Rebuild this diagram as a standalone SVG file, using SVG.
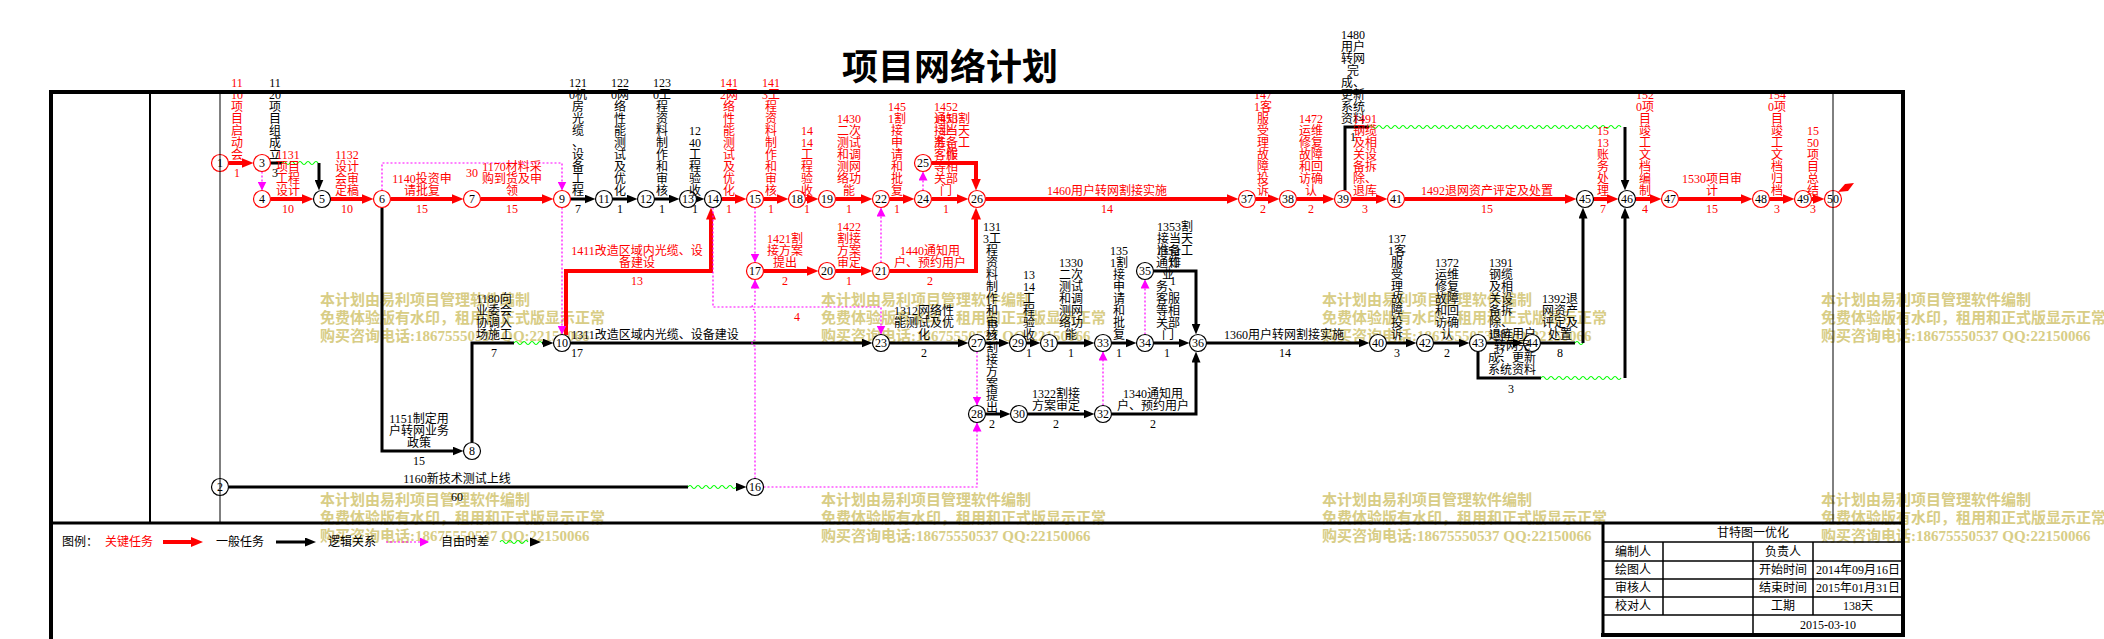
<svg xmlns="http://www.w3.org/2000/svg" width="2104" height="639" viewBox="0 0 2104 639">
<style>
.t{font-family:"Liberation Serif","Noto Sans CJK SC",serif;font-size:12px;text-anchor:middle}
.ts{font-family:"Liberation Serif","Noto Sans CJK SC",serif;font-size:12px}
.r{fill:#f00}.k{fill:#000}
.nr circle{fill:#fff;stroke:#f00;stroke-width:1.2}
.nk circle{fill:#fff;stroke:#000;stroke-width:1.2}
.nr text,.nk text{font-family:"Liberation Serif",serif;font-size:12px;text-anchor:middle;fill:#000}
.cr{stroke:#f00;stroke-width:4;fill:none;marker-end:url(#ar)}
.ck{stroke:#000;stroke-width:3;fill:none;marker-end:url(#ak)}
.kp{stroke:#000;stroke-width:3;fill:none}
.cm{stroke:#f0f;stroke-width:1.2;stroke-dasharray:2 2;fill:none;marker-end:url(#am)}
.cmp{stroke:#f0f;stroke-width:1.2;stroke-dasharray:2 2;fill:none}
.wv{stroke:#0f0;stroke-width:1.2;fill:none}
.wm{font-family:"Liberation Serif","Noto Sans CJK SC",serif;font-size:15px;font-weight:bold;fill:#d8cd86}
.fr{stroke:#000;fill:none}
</style>
<defs>
<marker id="ar" markerUnits="userSpaceOnUse" markerWidth="12" markerHeight="10" refX="7" refY="5" orient="auto"><path d="M0,0 L12,5 L0,10 z" fill="#f00"/></marker>
<marker id="ak" markerUnits="userSpaceOnUse" markerWidth="11" markerHeight="9" refX="6" refY="4.5" orient="auto"><path d="M0,0 L11,4.5 L0,9 z" fill="#000"/></marker>
<marker id="am" markerUnits="userSpaceOnUse" markerWidth="9" markerHeight="9" refX="9" refY="4.5" orient="auto"><path d="M0,0 L9,4.5 L0,9 z" fill="#f0f"/></marker>
</defs>
<rect width="2104" height="639" fill="#fff"/>
<text x="950" y="80" font-family="'Noto Sans CJK SC',sans-serif" font-size="36" font-weight="bold" text-anchor="middle" fill="#000">项目网络计划</text>
<g id="watermark">
<text class="wm" x="320" y="305">本计划由易利项目管理软件编制</text>
<text class="wm" x="320" y="323">免费体验版有水印，租用和正式版显示正常</text>
<text class="wm" x="320" y="341">购买咨询电话:18675550537 QQ:22150066</text>
<text class="wm" x="821" y="305">本计划由易利项目管理软件编制</text>
<text class="wm" x="821" y="323">免费体验版有水印，租用和正式版显示正常</text>
<text class="wm" x="821" y="341">购买咨询电话:18675550537 QQ:22150066</text>
<text class="wm" x="1322" y="305">本计划由易利项目管理软件编制</text>
<text class="wm" x="1322" y="323">免费体验版有水印，租用和正式版显示正常</text>
<text class="wm" x="1322" y="341">购买咨询电话:18675550537 QQ:22150066</text>
<text class="wm" x="1821" y="305">本计划由易利项目管理软件编制</text>
<text class="wm" x="1821" y="323">免费体验版有水印，租用和正式版显示正常</text>
<text class="wm" x="1821" y="341">购买咨询电话:18675550537 QQ:22150066</text>
<text class="wm" x="320" y="505">本计划由易利项目管理软件编制</text>
<text class="wm" x="320" y="523">免费体验版有水印，租用和正式版显示正常</text>
<text class="wm" x="320" y="541">购买咨询电话:18675550537 QQ:22150066</text>
<text class="wm" x="821" y="505">本计划由易利项目管理软件编制</text>
<text class="wm" x="821" y="523">免费体验版有水印，租用和正式版显示正常</text>
<text class="wm" x="821" y="541">购买咨询电话:18675550537 QQ:22150066</text>
<text class="wm" x="1322" y="505">本计划由易利项目管理软件编制</text>
<text class="wm" x="1322" y="523">免费体验版有水印，租用和正式版显示正常</text>
<text class="wm" x="1322" y="541">购买咨询电话:18675550537 QQ:22150066</text>
<text class="wm" x="1821" y="505">本计划由易利项目管理软件编制</text>
<text class="wm" x="1821" y="523">免费体验版有水印，租用和正式版显示正常</text>
<text class="wm" x="1821" y="541">购买咨询电话:18675550537 QQ:22150066</text>
</g>
<g id="connectors">
<path class="cr" d="M228.5,163 H248.5"/>
<path class="cr" d="M270.5,199 H308.5"/>
<path class="cr" d="M330.5,199 H368.5"/>
<path class="cr" d="M390.5,199 H458.5"/>
<path class="cr" d="M480.5,199 H548.5"/>
<path class="cr" d="M721.5,199 H741.5"/>
<path class="cr" d="M763.5,199 H783.5"/>
<path class="cr" d="M805.5,199 H813.5"/>
<path class="cr" d="M835.5,199 H867.5"/>
<path class="cr" d="M889.5,199 H909.5"/>
<path class="cr" d="M931.5,199 H963.5"/>
<path class="cr" d="M931.5,163 H976 V185.5"/>
<path class="cr" d="M566,335 V271 H711 V212.5"/>
<path class="cr" d="M763.5,271 H813.5"/>
<path class="cr" d="M835.5,271 H867.5"/>
<path class="cr" d="M889.5,271 H976 V212.5"/>
<path class="cr" d="M985.5,199 H1233.5"/>
<path class="cr" d="M1255.5,199 H1274.5"/>
<path class="cr" d="M1296.5,199 H1329.5"/>
<path class="cr" d="M1351.5,199 H1382.5"/>
<path class="cr" d="M1404.5,199 H1571.5"/>
<path class="cr" d="M1593.5,199 H1613.5"/>
<path class="cr" d="M1635.5,199 H1656.5"/>
<path class="cr" d="M1678.5,199 H1747.5"/>
<path class="cr" d="M1769.5,199 H1789.5"/>
<path class="cr" d="M1811.5,199 H1819.5"/>
<path class="kp" d="M270.5,163 H282"/>
<path class="wv" d="M282,163 q2,-3 4,0 t4,0 t4,0 t4,0 t4,0 t4,0 t4,0 t4,0 t4,0"/>
<path class="ck" d="M319,163 V185.5"/>
<path class="ck" d="M570.5,199 H590.5"/>
<path class="ck" d="M612.5,199 H632.5"/>
<path class="ck" d="M654.5,199 H674.5"/>
<path class="ck" d="M696.5,199 H699.5"/>
<path class="ck" d="M382,207.5 V451 H458.5"/>
<path class="kp" d="M472,442.5 V343 H514"/>
<path class="wv" d="M514,343 q2,-3 4,0 t4,0 t4,0 t4,0 t4,0 t4,0 t4,0"/>
<path class="ck" d="M542,343 H548.5"/>
<path class="ck" d="M570.5,343 H867.5"/>
<path class="kp" d="M228.5,487 H688"/>
<path class="wv" d="M688,487 q2,-3 4,0 t4,0 t4,0 t4,0 t4,0 t4,0 t4,0 t4,0 t4,0 t4,0 t4,0 t4,0"/>
<path class="ck" d="M736,487 H741.5"/>
<path class="ck" d="M889.5,343 H963.5"/>
<path class="ck" d="M985.5,343 H1004.5"/>
<path class="ck" d="M1026.5,343 H1035.5"/>
<path class="ck" d="M1057.5,343 H1089.5"/>
<path class="ck" d="M1111.5,343 H1131.5"/>
<path class="ck" d="M1153.5,343 H1184.5"/>
<path class="ck" d="M1153.5,271 H1196 V329.5"/>
<path class="ck" d="M985.5,414 H1005.5"/>
<path class="ck" d="M1027.5,414 H1089.5"/>
<path class="ck" d="M1111.5,414 H1196 V356.5"/>
<path class="ck" d="M1206.5,343 H1364.5"/>
<path class="ck" d="M1386.5,343 H1411.5"/>
<path class="ck" d="M1433.5,343 H1464.5"/>
<path class="ck" d="M1486.5,343 H1518.5"/>
<path class="kp" d="M1540.5,343 H1575"/>
<path class="wv" d="M1575,343 q2,-3 4,0 t4,0"/>
<path class="ck" d="M1583,343 V212.5"/>
<path class="kp" d="M1478,351.5 V378 H1541"/>
<path class="wv" d="M1541,378 q2,-3 4,0 t4,0 t4,0 t4,0 t4,0 t4,0 t4,0 t4,0 t4,0 t4,0 t4,0 t4,0 t4,0 t4,0 t4,0 t4,0 t4,0 t4,0 t4,0 t4,0"/>
<path class="ck" d="M1625,378 V212.5"/>
<path class="kp" d="M1345,190.5 V127 H1369"/>
<path class="wv" d="M1369,127 q2,-3 4,0 t4,0 t4,0 t4,0 t4,0 t4,0 t4,0 t4,0 t4,0 t4,0 t4,0 t4,0 t4,0 t4,0 t4,0 t4,0 t4,0 t4,0 t4,0 t4,0 t4,0 t4,0 t4,0 t4,0 t4,0 t4,0 t4,0 t4,0 t4,0 t4,0 t4,0 t4,0 t4,0 t4,0 t4,0 t4,0 t4,0 t4,0 t4,0 t4,0 t4,0 t4,0 t4,0 t4,0 t4,0 t4,0 t4,0 t4,0 t4,0 t4,0 t4,0 t4,0 t4,0 t4,0 t4,0 t4,0 t4,0 t4,0 t4,0 t4,0 t4,0 t4,0 t4,0"/>
<path class="ck" d="M1625,127 V185.5"/>
<path class="cm" d="M262,171.5 V190.5"/>
<path class="cm" d="M382,190.5 V163 H562 V190.5"/>
<path class="cm" d="M562,207.5 V334.5"/>
<path class="cm" d="M713,207.5 V307 H881 V334.5"/>
<path class="cm" d="M755,207.5 V262.5"/>
<path class="cm" d="M755,478.5 V346 a3,3 0 0 1 0,-6 V310 a3,3 0 0 1 0,-6 V279.5"/>
<path class="cm" d="M881,262.5 V207.5"/>
<path class="cm" d="M923,190.5 V171.5"/>
<path class="cm" d="M977,351.5 V405.5"/>
<path class="cm" d="M763.5,487 H977 V422.5"/>
<path class="cm" d="M1103,405.5 V351.5"/>
<path class="cm" d="M1145,334.5 V279.5"/>
</g>
<g id="nodes">
<g id="n1" class="nr"><circle cx="220" cy="163" r="8.5"/><text x="220" y="167">1</text></g>
<g id="n2" class="nk"><circle cx="220" cy="487" r="8.5"/><text x="220" y="491">2</text></g>
<g id="n3" class="nr"><circle cx="262" cy="163" r="8.5"/><text x="262" y="167">3</text></g>
<g id="n4" class="nr"><circle cx="262" cy="199" r="8.5"/><text x="262" y="203">4</text></g>
<g id="n5" class="nk"><circle cx="322" cy="199" r="8.5"/><text x="322" y="203">5</text></g>
<g id="n6" class="nr"><circle cx="382" cy="199" r="8.5"/><text x="382" y="203">6</text></g>
<g id="n7" class="nr"><circle cx="472" cy="199" r="8.5"/><text x="472" y="203">7</text></g>
<g id="n8" class="nk"><circle cx="472" cy="451" r="8.5"/><text x="472" y="455">8</text></g>
<g id="n9" class="nr"><circle cx="562" cy="199" r="8.5"/><text x="562" y="203">9</text></g>
<g id="n10" class="nk"><circle cx="562" cy="343" r="8.5"/><text x="562" y="347">10</text></g>
<g id="n11" class="nk"><circle cx="604" cy="199" r="8.5"/><text x="604" y="203">11</text></g>
<g id="n12" class="nk"><circle cx="646" cy="199" r="8.5"/><text x="646" y="203">12</text></g>
<g id="n13" class="nk"><circle cx="688" cy="199" r="8.5"/><text x="688" y="203">13</text></g>
<g id="n14" class="nk"><circle cx="713" cy="199" r="8.5"/><text x="713" y="203">14</text></g>
<g id="n15" class="nr"><circle cx="755" cy="199" r="8.5"/><text x="755" y="203">15</text></g>
<g id="n16" class="nk"><circle cx="755" cy="487" r="8.5"/><text x="755" y="491">16</text></g>
<g id="n17" class="nr"><circle cx="755" cy="271" r="8.5"/><text x="755" y="275">17</text></g>
<g id="n18" class="nr"><circle cx="797" cy="199" r="8.5"/><text x="797" y="203">18</text></g>
<g id="n19" class="nr"><circle cx="827" cy="199" r="8.5"/><text x="827" y="203">19</text></g>
<g id="n20" class="nr"><circle cx="827" cy="271" r="8.5"/><text x="827" y="275">20</text></g>
<g id="n21" class="nr"><circle cx="881" cy="271" r="8.5"/><text x="881" y="275">21</text></g>
<g id="n22" class="nr"><circle cx="881" cy="199" r="8.5"/><text x="881" y="203">22</text></g>
<g id="n23" class="nk"><circle cx="881" cy="343" r="8.5"/><text x="881" y="347">23</text></g>
<g id="n24" class="nr"><circle cx="923" cy="199" r="8.5"/><text x="923" y="203">24</text></g>
<g id="n25" class="nr"><circle cx="923" cy="163" r="8.5"/><text x="923" y="167">25</text></g>
<g id="n26" class="nr"><circle cx="977" cy="199" r="8.5"/><text x="977" y="203">26</text></g>
<g id="n27" class="nk"><circle cx="977" cy="343" r="8.5"/><text x="977" y="347">27</text></g>
<g id="n28" class="nk"><circle cx="977" cy="414" r="8.5"/><text x="977" y="418">28</text></g>
<g id="n29" class="nk"><circle cx="1018" cy="343" r="8.5"/><text x="1018" y="347">29</text></g>
<g id="n30" class="nk"><circle cx="1019" cy="414" r="8.5"/><text x="1019" y="418">30</text></g>
<g id="n31" class="nk"><circle cx="1049" cy="343" r="8.5"/><text x="1049" y="347">31</text></g>
<g id="n32" class="nk"><circle cx="1103" cy="414" r="8.5"/><text x="1103" y="418">32</text></g>
<g id="n33" class="nk"><circle cx="1103" cy="343" r="8.5"/><text x="1103" y="347">33</text></g>
<g id="n34" class="nk"><circle cx="1145" cy="343" r="8.5"/><text x="1145" y="347">34</text></g>
<g id="n35" class="nk"><circle cx="1145" cy="271" r="8.5"/><text x="1145" y="275">35</text></g>
<g id="n36" class="nk"><circle cx="1198" cy="343" r="8.5"/><text x="1198" y="347">36</text></g>
<g id="n37" class="nr"><circle cx="1247" cy="199" r="8.5"/><text x="1247" y="203">37</text></g>
<g id="n38" class="nr"><circle cx="1288" cy="199" r="8.5"/><text x="1288" y="203">38</text></g>
<g id="n39" class="nr"><circle cx="1343" cy="199" r="8.5"/><text x="1343" y="203">39</text></g>
<g id="n40" class="nk"><circle cx="1378" cy="343" r="8.5"/><text x="1378" y="347">40</text></g>
<g id="n41" class="nr"><circle cx="1396" cy="199" r="8.5"/><text x="1396" y="203">41</text></g>
<g id="n42" class="nk"><circle cx="1425" cy="343" r="8.5"/><text x="1425" y="347">42</text></g>
<g id="n43" class="nk"><circle cx="1478" cy="343" r="8.5"/><text x="1478" y="347">43</text></g>
<g id="n44" class="nk"><circle cx="1532" cy="343" r="8.5"/><text x="1532" y="347">44</text></g>
<g id="n45" class="nk"><circle cx="1585" cy="199" r="8.5"/><text x="1585" y="203">45</text></g>
<g id="n46" class="nk"><circle cx="1627" cy="199" r="8.5"/><text x="1627" y="203">46</text></g>
<g id="n47" class="nr"><circle cx="1670" cy="199" r="8.5"/><text x="1670" y="203">47</text></g>
<g id="n48" class="nr"><circle cx="1761" cy="199" r="8.5"/><text x="1761" y="203">48</text></g>
<g id="n49" class="nr"><circle cx="1803" cy="199" r="8.5"/><text x="1803" y="203">49</text></g>
<g id="n50" class="nr"><circle cx="1833" cy="199" r="8.5"/><text x="1833" y="203">50</text><polygon points="1838,192 1845,184 1854,183 1848,191" fill="#f00"/></g>
</g>
<g id="labels">
<text class="t r" x="237" y="87">11<tspan x="237" dy="12">10</tspan><tspan x="237" dy="12">项</tspan><tspan x="237" dy="12">目</tspan><tspan x="237" dy="12">启</tspan><tspan x="237" dy="12">动</tspan><tspan x="237" dy="12">会</tspan></text>
<text class="t k" x="275" y="87">11<tspan x="275" dy="12">20</tspan><tspan x="275" dy="12">项</tspan><tspan x="275" dy="12">目</tspan><tspan x="275" dy="12">组</tspan><tspan x="275" dy="12">成</tspan><tspan x="275" dy="12">立</tspan></text>
<text class="t r" x="288" y="159">1131<tspan x="288" dy="12">项目</tspan><tspan x="288" dy="12">工程</tspan><tspan x="288" dy="12">设计</tspan></text>
<text class="t r" x="347" y="159">1132<tspan x="347" dy="12">设计</tspan><tspan x="347" dy="12">会审</tspan><tspan x="347" dy="12">定稿</tspan></text>
<text class="t r" x="422" y="183">1140投资申<tspan x="422" dy="12">请批复</tspan></text>
<text class="t r" x="512" y="171">1170材料采<tspan x="512" dy="12">购到货及申</tspan><tspan x="512" dy="12">领</tspan></text>
<text class="t k" x="578" y="87">121<tspan x="578" dy="12">0机</tspan><tspan x="578" dy="12">房</tspan><tspan x="578" dy="12">光</tspan><tspan x="578" dy="12">缆</tspan><tspan x="578" dy="12">、</tspan><tspan x="578" dy="12">设</tspan><tspan x="578" dy="12">备</tspan><tspan x="578" dy="12">工</tspan><tspan x="578" dy="12">程</tspan></text>
<text class="t k" x="620" y="87">122<tspan x="620" dy="12">0网</tspan><tspan x="620" dy="12">络</tspan><tspan x="620" dy="12">性</tspan><tspan x="620" dy="12">能</tspan><tspan x="620" dy="12">测</tspan><tspan x="620" dy="12">试</tspan><tspan x="620" dy="12">及</tspan><tspan x="620" dy="12">优</tspan><tspan x="620" dy="12">化</tspan></text>
<text class="t k" x="662" y="87">123<tspan x="662" dy="12">0工</tspan><tspan x="662" dy="12">程</tspan><tspan x="662" dy="12">资</tspan><tspan x="662" dy="12">料</tspan><tspan x="662" dy="12">制</tspan><tspan x="662" dy="12">作</tspan><tspan x="662" dy="12">和</tspan><tspan x="662" dy="12">审</tspan><tspan x="662" dy="12">核</tspan></text>
<text class="t k" x="695" y="135">12<tspan x="695" dy="12">40</tspan><tspan x="695" dy="12">工</tspan><tspan x="695" dy="12">程</tspan><tspan x="695" dy="12">验</tspan><tspan x="695" dy="12">收</tspan></text>
<text class="t r" x="729" y="87">141<tspan x="729" dy="12">2网</tspan><tspan x="729" dy="12">络</tspan><tspan x="729" dy="12">性</tspan><tspan x="729" dy="12">能</tspan><tspan x="729" dy="12">测</tspan><tspan x="729" dy="12">试</tspan><tspan x="729" dy="12">及</tspan><tspan x="729" dy="12">优</tspan><tspan x="729" dy="12">化</tspan></text>
<text class="t r" x="771" y="87">141<tspan x="771" dy="12">3工</tspan><tspan x="771" dy="12">程</tspan><tspan x="771" dy="12">资</tspan><tspan x="771" dy="12">料</tspan><tspan x="771" dy="12">制</tspan><tspan x="771" dy="12">作</tspan><tspan x="771" dy="12">和</tspan><tspan x="771" dy="12">审</tspan><tspan x="771" dy="12">核</tspan></text>
<text class="t r" x="807" y="135">14<tspan x="807" dy="12">14</tspan><tspan x="807" dy="12">工</tspan><tspan x="807" dy="12">程</tspan><tspan x="807" dy="12">验</tspan><tspan x="807" dy="12">收</tspan></text>
<text class="t r" x="849" y="123">1430<tspan x="849" dy="12">二次</tspan><tspan x="849" dy="12">测试</tspan><tspan x="849" dy="12">和调</tspan><tspan x="849" dy="12">测网</tspan><tspan x="849" dy="12">络功</tspan><tspan x="849" dy="12">能</tspan></text>
<text class="t r" x="897" y="111">145<tspan x="897" dy="12">1割</tspan><tspan x="897" dy="12">接</tspan><tspan x="897" dy="12">申</tspan><tspan x="897" dy="12">请</tspan><tspan x="897" dy="12">和</tspan><tspan x="897" dy="12">批</tspan><tspan x="897" dy="12">复</tspan></text>
<text class="t r" x="946" y="111">1452<tspan x="946" dy="12">通知</tspan><tspan x="946" dy="12">业</tspan><tspan x="946" dy="12">务、</tspan><tspan x="946" dy="12">客服</tspan><tspan x="946" dy="12">等相</tspan><tspan x="946" dy="12">关部</tspan><tspan x="946" dy="12">门</tspan></text>
<text class="t r" x="952" y="123">1453割<tspan x="952" dy="12">接当天</tspan><tspan x="952" dy="12">准备工</tspan><tspan x="952" dy="12">作</tspan></text>
<text class="t r" x="1107" y="195">1460用户转网割接实施</text>
<text class="t r" x="1263" y="99">147<tspan x="1263" dy="12">1客</tspan><tspan x="1263" dy="12">服</tspan><tspan x="1263" dy="12">受</tspan><tspan x="1263" dy="12">理</tspan><tspan x="1263" dy="12">故</tspan><tspan x="1263" dy="12">障</tspan><tspan x="1263" dy="12">投</tspan><tspan x="1263" dy="12">诉</tspan></text>
<text class="t r" x="1311" y="123">1472<tspan x="1311" dy="12">运维</tspan><tspan x="1311" dy="12">修复</tspan><tspan x="1311" dy="12">故障</tspan><tspan x="1311" dy="12">和回</tspan><tspan x="1311" dy="12">访确</tspan><tspan x="1311" dy="12">认</tspan></text>
<text class="t k" x="1353" y="39">1480<tspan x="1353" dy="12">用户</tspan><tspan x="1353" dy="12">转网</tspan><tspan x="1353" dy="12">完</tspan><tspan x="1353" dy="12">成、</tspan><tspan x="1353" dy="12">更新</tspan><tspan x="1353" dy="12">系统</tspan><tspan x="1353" dy="12">资料</tspan></text>
<text class="t r" x="1365" y="123">1491<tspan x="1365" dy="12">钢缆</tspan><tspan x="1365" dy="12">及相</tspan><tspan x="1365" dy="12">关设</tspan><tspan x="1365" dy="12">备拆</tspan><tspan x="1365" dy="12">除、</tspan><tspan x="1365" dy="12">退库</tspan></text>
<text class="t r" x="1487" y="195">1492退网资产评定及处置</text>
<text class="t r" x="1603" y="135">15<tspan x="1603" dy="12">13</tspan><tspan x="1603" dy="12">账</tspan><tspan x="1603" dy="12">务</tspan><tspan x="1603" dy="12">处</tspan><tspan x="1603" dy="12">理</tspan></text>
<text class="t r" x="1645" y="99">152<tspan x="1645" dy="12">0项</tspan><tspan x="1645" dy="12">目</tspan><tspan x="1645" dy="12">竣</tspan><tspan x="1645" dy="12">工</tspan><tspan x="1645" dy="12">文</tspan><tspan x="1645" dy="12">档</tspan><tspan x="1645" dy="12">编</tspan><tspan x="1645" dy="12">制</tspan></text>
<text class="t r" x="1712" y="183">1530项目审<tspan x="1712" dy="12">计</tspan></text>
<text class="t r" x="1777" y="99">154<tspan x="1777" dy="12">0项</tspan><tspan x="1777" dy="12">目</tspan><tspan x="1777" dy="12">竣</tspan><tspan x="1777" dy="12">工</tspan><tspan x="1777" dy="12">文</tspan><tspan x="1777" dy="12">档</tspan><tspan x="1777" dy="12">归</tspan><tspan x="1777" dy="12">档</tspan></text>
<text class="t r" x="1813" y="135">15<tspan x="1813" dy="12">50</tspan><tspan x="1813" dy="12">项</tspan><tspan x="1813" dy="12">目</tspan><tspan x="1813" dy="12">总</tspan><tspan x="1813" dy="12">结</tspan></text>
<text class="t r" x="637" y="255">1411改造区域内光缆、设<tspan x="637" dy="12">备建设</tspan></text>
<text class="t r" x="785" y="243">1421割<tspan x="785" dy="12">接方案</tspan><tspan x="785" dy="12">提出</tspan></text>
<text class="t r" x="849" y="231">1422<tspan x="849" dy="12">割接</tspan><tspan x="849" dy="12">方案</tspan><tspan x="849" dy="12">审定</tspan></text>
<text class="t r" x="930" y="255">1440通知用<tspan x="930" dy="12">户、预约用户</tspan></text>
<text class="t k" x="1175" y="231">1353割<tspan x="1175" dy="12">接当天</tspan><tspan x="1175" dy="12">准备工</tspan><tspan x="1175" dy="12">作</tspan></text>
<text class="t k" x="419" y="423">1151制定用<tspan x="419" dy="12">户转网业务</tspan><tspan x="419" dy="12">政策</tspan></text>
<text class="t k" x="494" y="303">1180向<tspan x="494" dy="12">业委会</tspan><tspan x="494" dy="12">协调入</tspan><tspan x="494" dy="12">场施工</tspan></text>
<text class="t k" x="655" y="339">1311改造区域内光缆、设备建设</text>
<text class="t k" x="457" y="483">1160新技术测试上线</text>
<text class="t k" x="924" y="315">1312网络性<tspan x="924" dy="12">能测试及优</tspan><tspan x="924" dy="12">化</tspan></text>
<text class="t k" x="992" y="231">131<tspan x="992" dy="12">3工</tspan><tspan x="992" dy="12">程</tspan><tspan x="992" dy="12">资</tspan><tspan x="992" dy="12">料</tspan><tspan x="992" dy="12">制</tspan><tspan x="992" dy="12">作</tspan><tspan x="992" dy="12">和</tspan><tspan x="992" dy="12">审</tspan><tspan x="992" dy="12">核</tspan></text>
<text class="t k" x="992" y="328">13<tspan x="992" dy="12">21</tspan><tspan x="992" dy="12">割</tspan><tspan x="992" dy="12">接</tspan><tspan x="992" dy="12">方</tspan><tspan x="992" dy="12">案</tspan><tspan x="992" dy="12">提</tspan><tspan x="992" dy="12">出</tspan></text>
<text class="t k" x="1029" y="279">13<tspan x="1029" dy="12">14</tspan><tspan x="1029" dy="12">工</tspan><tspan x="1029" dy="12">程</tspan><tspan x="1029" dy="12">验</tspan><tspan x="1029" dy="12">收</tspan></text>
<text class="t k" x="1056" y="398">1322割接<tspan x="1056" dy="12">方案审定</tspan></text>
<text class="t k" x="1071" y="267">1330<tspan x="1071" dy="12">二次</tspan><tspan x="1071" dy="12">测试</tspan><tspan x="1071" dy="12">和调</tspan><tspan x="1071" dy="12">测网</tspan><tspan x="1071" dy="12">络功</tspan><tspan x="1071" dy="12">能</tspan></text>
<text class="t k" x="1153" y="398">1340通知用<tspan x="1153" dy="12">户、预约用户</tspan></text>
<text class="t k" x="1119" y="255">135<tspan x="1119" dy="12">1割</tspan><tspan x="1119" dy="12">接</tspan><tspan x="1119" dy="12">申</tspan><tspan x="1119" dy="12">请</tspan><tspan x="1119" dy="12">和</tspan><tspan x="1119" dy="12">批</tspan><tspan x="1119" dy="12">复</tspan></text>
<text class="t k" x="1168" y="255">1352<tspan x="1168" dy="12">通知</tspan><tspan x="1168" dy="12">业</tspan><tspan x="1168" dy="12">务、</tspan><tspan x="1168" dy="12">客服</tspan><tspan x="1168" dy="12">等相</tspan><tspan x="1168" dy="12">关部</tspan><tspan x="1168" dy="12">门</tspan></text>
<text class="t k" x="1284" y="339">1360用户转网割接实施</text>
<text class="t k" x="1397" y="243">137<tspan x="1397" dy="12">1客</tspan><tspan x="1397" dy="12">服</tspan><tspan x="1397" dy="12">受</tspan><tspan x="1397" dy="12">理</tspan><tspan x="1397" dy="12">故</tspan><tspan x="1397" dy="12">障</tspan><tspan x="1397" dy="12">投</tspan><tspan x="1397" dy="12">诉</tspan></text>
<text class="t k" x="1447" y="267">1372<tspan x="1447" dy="12">运维</tspan><tspan x="1447" dy="12">修复</tspan><tspan x="1447" dy="12">故障</tspan><tspan x="1447" dy="12">和回</tspan><tspan x="1447" dy="12">访确</tspan><tspan x="1447" dy="12">认</tspan></text>
<text class="t k" x="1501" y="267">1391<tspan x="1501" dy="12">钢缆</tspan><tspan x="1501" dy="12">及相</tspan><tspan x="1501" dy="12">关设</tspan><tspan x="1501" dy="12">备拆</tspan><tspan x="1501" dy="12">除、</tspan><tspan x="1501" dy="12">退库</tspan></text>
<text class="t k" x="1512" y="338">1381用户<tspan x="1512" dy="12">转网完</tspan><tspan x="1512" dy="12">成、更新</tspan><tspan x="1512" dy="12">系统资料</tspan></text>
<text class="t k" x="1560" y="303">1392退<tspan x="1560" dy="12">网资产</tspan><tspan x="1560" dy="12">评定及</tspan><tspan x="1560" dy="12">处置</tspan></text>
<g class="t r">
<text x="237" y="177">1</text><text x="472" y="177">30</text>
<text x="288" y="213">10</text><text x="347" y="213">10</text><text x="422" y="213">15</text><text x="512" y="213">15</text>
<text x="729" y="213">1</text><text x="771" y="213">1</text><text x="807" y="213">1</text><text x="849" y="213">1</text><text x="897" y="213">1</text><text x="946" y="213">1</text>
<text x="1107" y="213">14</text><text x="1263" y="213">2</text><text x="1311" y="213">2</text><text x="1365" y="213">3</text><text x="1487" y="213">15</text><text x="1603" y="213">7</text><text x="1645" y="213">4</text><text x="1712" y="213">15</text><text x="1777" y="213">3</text><text x="1813" y="213">3</text>
<text x="637" y="285">13</text><text x="785" y="285">2</text><text x="849" y="285">1</text><text x="930" y="285">2</text>
<text x="797" y="321">4</text>
</g>
<g class="t k">
<text x="275" y="177">3</text><text x="1353" y="141">1</text>
<text x="578" y="213">7</text><text x="620" y="213">1</text><text x="662" y="213">1</text><text x="695" y="213">1</text>
<text x="1173" y="285">1</text>
<text x="494" y="357">7</text><text x="577" y="357">17</text><text x="924" y="357">2</text><text x="1029" y="357">1</text><text x="1071" y="357">1</text><text x="1119" y="357">1</text><text x="1167" y="357">1</text><text x="1285" y="357">14</text><text x="1397" y="357">3</text><text x="1447" y="357">2</text><text x="1501" y="357">2</text><text x="1560" y="357">8</text>
<text x="1511" y="393">3</text>
<text x="992" y="428">2</text><text x="1056" y="428">2</text><text x="1153" y="428">2</text>
<text x="419" y="465">15</text><text x="457" y="501">60</text>
</g>
</g>
<g id="frame">
<line class="fr" x1="51" y1="90" x2="51" y2="639" stroke-width="4"/>
<line class="fr" x1="49" y1="92" x2="1905" y2="92" stroke-width="4"/>
<line class="fr" x1="1903" y1="90" x2="1903" y2="637" stroke-width="4"/>
<line class="fr" x1="49" y1="523" x2="1905" y2="523" stroke-width="3"/>
<line class="fr" x1="150" y1="92" x2="150" y2="523" stroke-width="2"/>
<line class="fr" x1="220" y1="92" x2="220" y2="523" stroke-width="1"/>
<line class="fr" x1="1833" y1="92" x2="1833" y2="523" stroke-width="1"/>
</g>
<g id="legend">
<text class="ts k" x="62" y="546">图例：</text>
<text class="ts r" x="105" y="546">关键任务</text>
<path class="cr" d="M163,542 H198"/>
<text class="ts k" x="216" y="546">一般任务</text>
<path class="ck" d="M276,542 H311"/>
<text class="ts k" x="328" y="546">逻辑关系</text>
<path class="cm" d="M386,542 H429"/>
<text class="ts k" x="441" y="546">自由时差</text>
<path class="wv" d="M500,542 q2,-3 4,0 t4,0 t4,0 t4,0 t4,0 t4,0 t4,0"/>
<polygon points="530,537.5 541,542 530,546.5" fill="#000"/>
</g>
<g id="table">
<line class="fr" x1="1603" y1="523" x2="1603" y2="637" stroke-width="3"/>
<line class="fr" x1="1601" y1="635" x2="1905" y2="635" stroke-width="4"/>
<g class="fr" stroke-width="1.5">
<line x1="1603" y1="542" x2="1903" y2="542"/>
<line x1="1603" y1="561" x2="1903" y2="561"/>
<line x1="1603" y1="579" x2="1903" y2="579"/>
<line x1="1603" y1="597" x2="1903" y2="597"/>
<line x1="1603" y1="615" x2="1903" y2="615"/>
<line x1="1663" y1="542" x2="1663" y2="615"/>
<line x1="1753" y1="542" x2="1753" y2="635"/>
<line x1="1813" y1="542" x2="1813" y2="615"/>
</g>
<g class="t k">
<text x="1753" y="537">甘特图一优化</text>
<text x="1633" y="556">编制人</text><text x="1783" y="556">负责人</text>
<text x="1633" y="574">绘图人</text><text x="1783" y="574">开始时间</text><text x="1858" y="574">2014年09月16日</text>
<text x="1633" y="592">审核人</text><text x="1783" y="592">结束时间</text><text x="1858" y="592">2015年01月31日</text>
<text x="1633" y="610">校对人</text><text x="1783" y="610">工期</text><text x="1858" y="610">138天</text>
<text x="1828" y="629">2015-03-10</text>
</g>
</g>
</svg>
